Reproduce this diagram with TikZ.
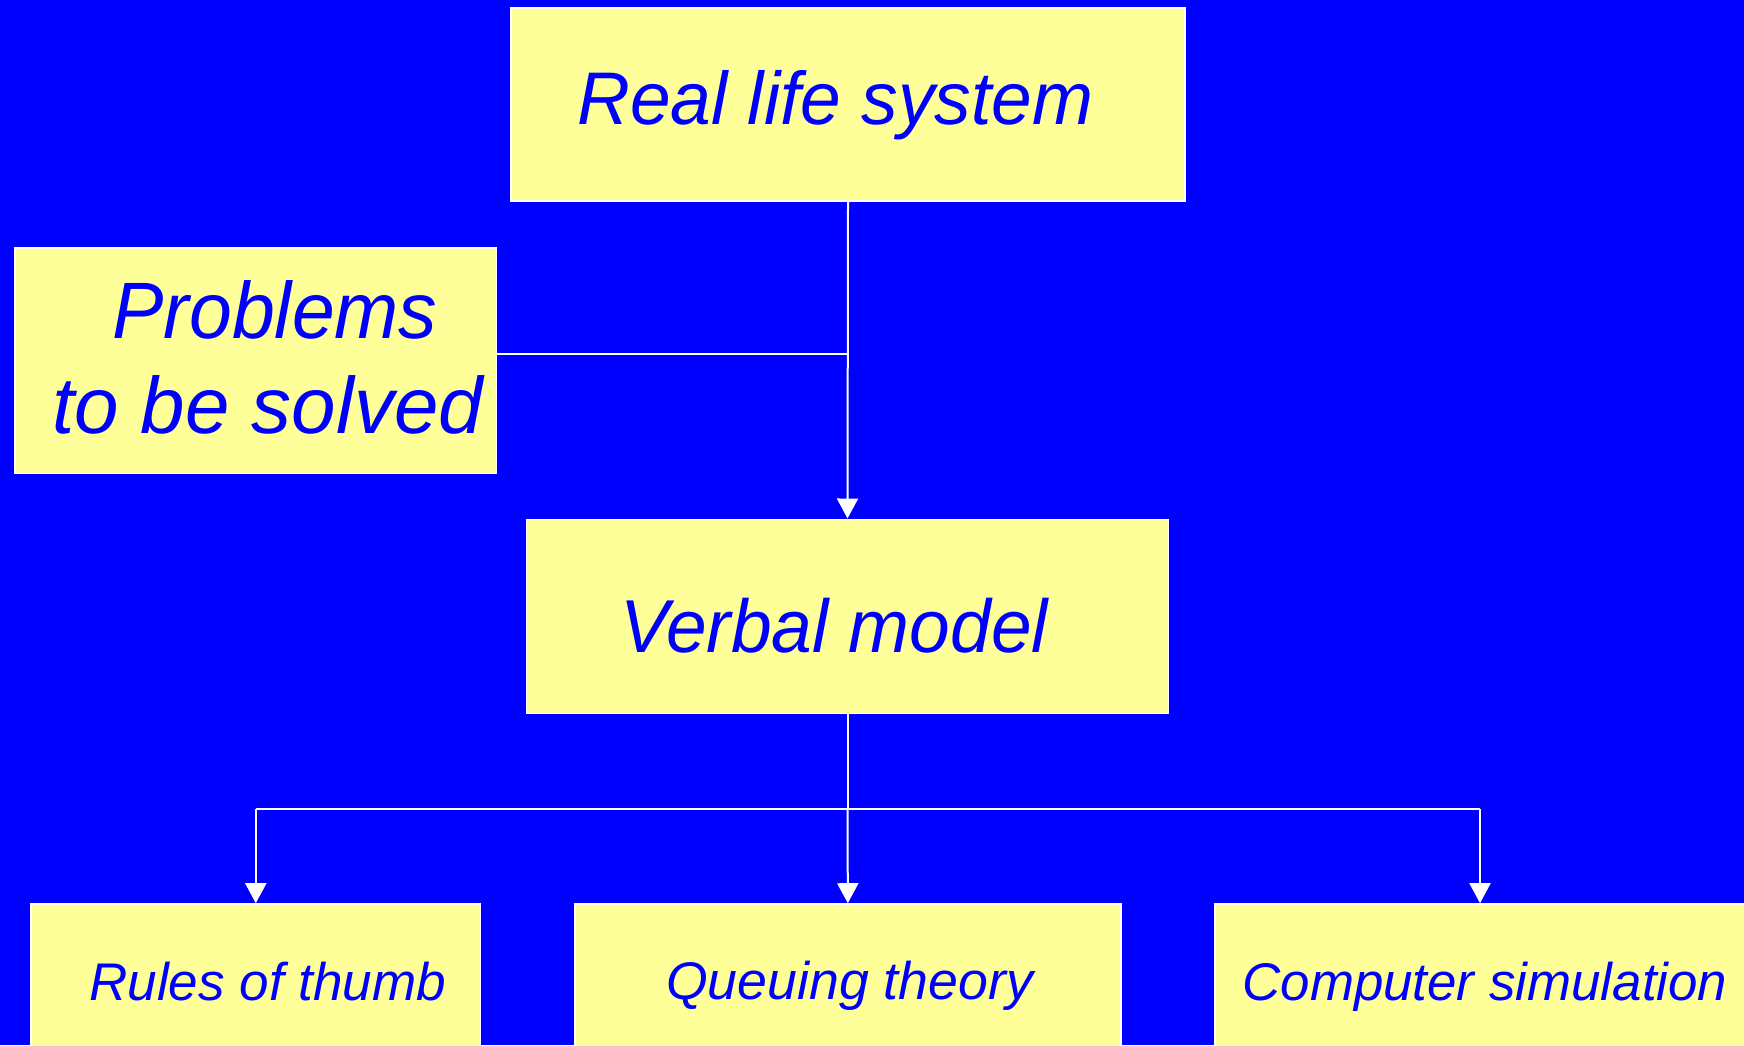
\documentclass[tikz,border=0pt]{standalone}
\usepackage{fontspec}
\setmainfont{Liberation Sans}
\usepackage{graphicx}
\usetikzlibrary{arrows.meta}
\definecolor{bg}{HTML}{0000FF}
\definecolor{boxfill}{HTML}{FFFF99}
\definecolor{ink}{HTML}{0000FF}
\newcommand{\fitw}[3]{\resizebox{#1pt}{\height}{\fontsize{#2pt}{#2pt}\selectfont\itshape #3}}
\tikzset{
  box/.style={draw=white, line width=0.8pt, fill=boxfill, rectangle, inner sep=0pt},
  lbl/.style={anchor=base west, inner sep=0pt, text=ink},
  conn/.style={draw=white, line width=1pt},
  arr/.style={conn, -{Triangle[width=10.5pt,length=10pt]}}
}
\begin{document}
\begin{tikzpicture}[x=0.5pt,y=-0.5pt]
\useasboundingbox (0,0) rectangle (1744,1045);
\clip (0,0) rectangle (1744,1045);
\fill[bg] (0,0) rectangle (1744,1045);

% boxes
\node[box, minimum width=337pt, minimum height=96.5pt] (real) at (848,104.5) {};
\node[box, minimum width=240.75pt, minimum height=112.75pt] (prob) at (255.75,360.75) {};
\node[box, minimum width=321pt, minimum height=97pt] (verbal) at (847.5,616.3) {};
\node[box, minimum width=224.75pt, minimum height=90pt] (rules) at (255.75,994) {};
\node[box, minimum width=272.85pt, minimum height=90pt] (queue) at (847.85,994) {};
\node[box, minimum width=272.85pt, minimum height=90pt] (comp) at (1487.9,994) {};

% labels
\node[lbl] (tReal) at (577,124.3) {\fitw{258}{37.3}{Real life system}};
\node[lbl] (tProbA) at (112,338.3) {\fitw{162.5}{40}{Problems}};
\node[lbl] (tProbB) at (51.7,433.3) {\fitw{215.5}{40}{to be solved}};
\node[lbl] (tVerbal) at (619.7,652.7) {\fitw{214}{37.5}{Verbal model}};
\node[lbl] (tRules) at (88.8,1000) {\fitw{178.5}{26.5}{Rules of thumb}};
\node[lbl] (tQueue) at (665.7,999.3) {\fitw{183.5}{26.5}{Queuing theory}};
\node[lbl] (tComp) at (1242,1000) {\fitw{242.5}{26.5}{Computer simulation}};

% connectors
\coordinate (j1) at (847.5,354);
\coordinate (split) at (847.5,808.6);
\coordinate (leftc) at (255.8,808.6);
\coordinate (rightc) at (1480,808.6);

\draw[arr] (real.south) -- (verbal.north);
\draw[conn] (prob.east |- j1) -- (j1);
\draw[conn] (verbal.south) -- (split);
\draw[conn] (leftc) -- (rightc);
\draw[arr] (split) -- (queue.north);
\draw[arr] (leftc) -- (rules.north -| leftc);
\draw[arr] (rightc) -- (comp.north -| rightc);
\end{tikzpicture}
\end{document}
